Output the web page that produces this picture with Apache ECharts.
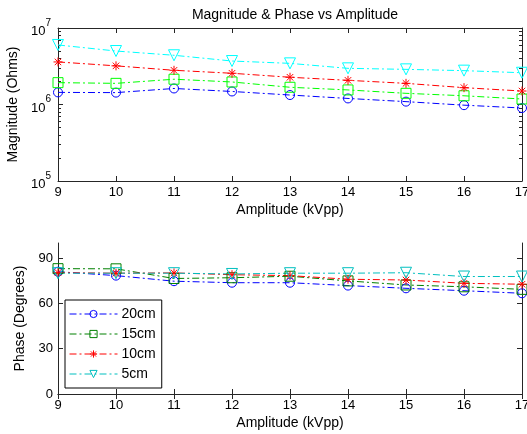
<!DOCTYPE html>
<html>
<head>
<meta charset="utf-8">
<script src="https://cdn.jsdelivr.net/npm/echarts@6/dist/echarts.min.js"></script>
<style>
html,body{margin:0;padding:0;background:#fff;}
#chart{width:527px;height:434px;}
</style>
</head>
<body>
<div id="chart"></div>
<script>
// Amplitude sweep (kVpp)
const amplitude = [9, 10, 11, 12, 13, 14, 15, 16, 17];
const distances = ['20cm', '15cm', '10cm', '5cm'];

// Impedance magnitude (Ohms)
const mag20 = [1.44e6, 1.43e6, 1.62e6, 1.48e6, 1.33e6, 1.20e6, 1.09e6, 0.98e6, 0.90e6];
const mag15 = [1.93e6, 1.89e6, 2.14e6, 1.97e6, 1.68e6, 1.55e6, 1.40e6, 1.30e6, 1.18e6];
const mag10 = [3.6e6, 3.2e6, 2.8e6, 2.56e6, 2.27e6, 2.07e6, 1.89e6, 1.66e6, 1.50e6];
const mag5  = [6.0e6, 5.0e6, 4.4e6, 3.7e6, 3.45e6, 2.97e6, 2.88e6, 2.77e6, 2.60e6];

// Phase (degrees)
const ph20 = [81, 78.4, 74.7, 73.7, 73.7, 71.8, 70.0, 68.4, 66.7];
const ph15 = [83, 82.9, 76.5, 77.0, 78.0, 74.9, 72.2, 71.0, 69.3];
const ph10 = [80.4, 80.0, 80.2, 79.0, 78.4, 76.0, 75.5, 73.3, 72.7];
const ph5  = [80, 80, 80, 79.5, 80, 80, 80.3, 77.8, 77.8];

const magTicks = [1e5, 1e6, 1e7];
const phaseTicks = [0, 30, 60, 90];

const FONT = 'Liberation Sans, Arial, sans-serif';
const AXIS_COLOR = '#262626';
const dashDot = [7, 3, 2, 3];

const starPath = 'path://M0,-5L0,5M-5,0L5,0M-3.6,-3.6L3.6,3.6M-3.6,3.6L3.6,-3.6';
const markerDefs = [
  { symbol: 'circle', size: 9, rotate: 0 },
  { symbol: 'rect', size: 10, rotate: 0 },
  { symbol: starPath, size: 9, rotate: 0 },
  { symbol: 'triangle', size: 11, rotate: 180 }
];
const topColors = ['#0000ff', '#00ff00', '#ff0000', '#00ffff'];
const botColors = ['#0000ff', '#008000', '#ff0000', '#00bfbf'];

// minor decade ticks 2..9 x 10^n
const minorLog = [];
for (let e = 5; e < 7; e++) for (let k = 2; k <= 9; k++) minorLog.push(k * Math.pow(10, e));

function pairs(ys) { return amplitude.map((x, i) => [x, ys[i]]); }

function makeSeries(name, ys, idx, colors, xi, yi) {
  const m = markerDefs[idx];
  const c = colors[idx];
  return {
    name: name,
    type: 'line',
    xAxisIndex: xi,
    yAxisIndex: yi,
    data: pairs(ys),
    symbol: m.symbol,
    symbolSize: m.size,
    symbolRotate: m.rotate,
    showSymbol: true,
    animation: false,
    lineStyle: { color: c, width: 1, type: dashDot },
    itemStyle: { color: 'rgba(255,255,255,0)', borderColor: c, borderWidth: 1 },
    emphasis: { disabled: true }
  };
}

const supFmt = v => {
  const e = Math.round(Math.log10(v));
  return '{b|10}{s|' + e + '}';
};

function xAxes(gi) {
  return [
    {
      type: 'value', gridIndex: gi, min: 9, max: 17, interval: 1,
      name: 'Amplitude (kVpp)', nameLocation: 'middle', nameGap: 22,
      nameTextStyle: { fontFamily: FONT, fontSize: 14, color: '#000' },
      axisLine: { show: true, lineStyle: { color: AXIS_COLOR, width: 1 } },
      axisTick: { show: true, inside: true, length: 5, lineStyle: { color: AXIS_COLOR } },
      axisLabel: { fontFamily: FONT, fontSize: 13, color: '#000', margin: 5 },
      splitLine: { show: false }
    },
    {
      type: 'value', gridIndex: gi, min: 9, max: 17, interval: 1, position: 'top',
      axisLine: { show: true, lineStyle: { color: AXIS_COLOR, width: 1 } },
      axisTick: { show: true, inside: true, length: 5, lineStyle: { color: AXIS_COLOR } },
      axisLabel: { show: false },
      splitLine: { show: false }
    }
  ];
}

const option = {
  backgroundColor: '#fff',
  animation: false,
  title: {
    text: 'Magnitude & Phase vs Amplitude',
    left: 290, top: 3, textAlign: 'center',
    textStyle: { fontFamily: FONT, fontSize: 14, fontWeight: 'normal', color: '#000' }
  },
  grid: [
    { left: 58, top: 28, right: 5, height: 153, containLabel: false, outerBoundsMode: 'none' },
    { left: 58, top: 243, right: 5, height: 151, containLabel: false, outerBoundsMode: 'none' }
  ],
  legend: {
    data: distances,
    orient: 'vertical',
    left: 65, top: 300,
    padding: [7, 6, 7, 4],
    itemWidth: 48, itemHeight: 9, itemGap: 6,
    backgroundColor: '#fff',
    borderColor: '#000', borderWidth: 1, borderRadius: 0,
    lineStyle: { width: 1 },
    itemStyle: { borderWidth: 1 },
    textStyle: { fontFamily: FONT, fontSize: 14, color: '#000', padding: [0, 0, 0, -1] },
    selectedMode: false
  },
  xAxis: [...xAxes(0), ...xAxes(1)],
  yAxis: [
    {
      type: 'log', logBase: 10, gridIndex: 0, min: 1e5, max: 1e7,
      name: 'Magnitude (Ohms)', nameLocation: 'middle', nameGap: 33, nameRotate: 90,
      nameTextStyle: { fontFamily: FONT, fontSize: 14, color: '#000' },
      axisLine: { show: true, lineStyle: { color: AXIS_COLOR, width: 1 } },
      axisTick: { show: true, inside: true, length: 5, customValues: magTicks, lineStyle: { color: AXIS_COLOR } },
      axisLabel: {
        customValues: magTicks, formatter: supFmt, margin: 7,
        rich: {
          b: { fontFamily: FONT, fontSize: 13, color: '#000', padding: [7, 0, 0, 0] },
          s: { fontFamily: FONT, fontSize: 10, color: '#000', verticalAlign: 'top', padding: [0, 0, 7, 0] }
        }
      },
      splitLine: { show: false }
    },
    {
      type: 'log', logBase: 10, gridIndex: 0, min: 1e5, max: 1e7, position: 'right',
      axisLine: { show: true, lineStyle: { color: AXIS_COLOR, width: 1 } },
      axisTick: { show: true, inside: true, length: 5, customValues: magTicks, lineStyle: { color: AXIS_COLOR } },
      axisLabel: { show: false },
      splitLine: { show: false }
    },
    {
      type: 'log', logBase: 10, gridIndex: 0, min: 1e5, max: 1e7, position: 'left',
      axisLine: { show: false },
      axisTick: { show: true, inside: true, length: 3, customValues: minorLog, lineStyle: { color: AXIS_COLOR } },
      axisLabel: { show: false },
      splitLine: { show: false }
    },
    {
      type: 'log', logBase: 10, gridIndex: 0, min: 1e5, max: 1e7, position: 'right',
      axisLine: { show: false },
      axisTick: { show: true, inside: true, length: 3, customValues: minorLog, lineStyle: { color: AXIS_COLOR } },
      axisLabel: { show: false },
      splitLine: { show: false }
    },
    {
      type: 'value', gridIndex: 1, min: 0, max: 100,
      name: 'Phase (Degrees)', nameLocation: 'middle', nameGap: 28, nameRotate: 90,
      nameTextStyle: { fontFamily: FONT, fontSize: 14, color: '#000' },
      axisLine: { show: true, lineStyle: { color: AXIS_COLOR, width: 1 } },
      axisTick: { show: true, inside: true, length: 5, customValues: phaseTicks, lineStyle: { color: AXIS_COLOR } },
      axisLabel: { customValues: phaseTicks, fontFamily: FONT, fontSize: 13, color: '#000', margin: 5 },
      splitLine: { show: false }
    },
    {
      type: 'value', gridIndex: 1, min: 0, max: 100, position: 'right',
      axisLine: { show: true, lineStyle: { color: AXIS_COLOR, width: 1 } },
      axisTick: { show: true, inside: true, length: 5, customValues: phaseTicks, lineStyle: { color: AXIS_COLOR } },
      axisLabel: { show: false },
      splitLine: { show: false }
    }
  ],
  series: [
    // phase panel first, so the legend takes its styling
    makeSeries(distances[0], ph20, 0, botColors, 2, 4),
    makeSeries(distances[1], ph15, 1, botColors, 2, 4),
    makeSeries(distances[2], ph10, 2, botColors, 2, 4),
    makeSeries(distances[3], ph5, 3, botColors, 2, 4),
    makeSeries(distances[0], mag20, 0, topColors, 0, 0),
    makeSeries(distances[1], mag15, 1, topColors, 0, 0),
    makeSeries(distances[2], mag10, 2, topColors, 0, 0),
    makeSeries(distances[3], mag5, 3, topColors, 0, 0)
  ]
};

const chart = echarts.init(document.getElementById('chart'), null, { renderer: 'canvas' });
chart.setOption(option);
</script>
</body>
</html>
